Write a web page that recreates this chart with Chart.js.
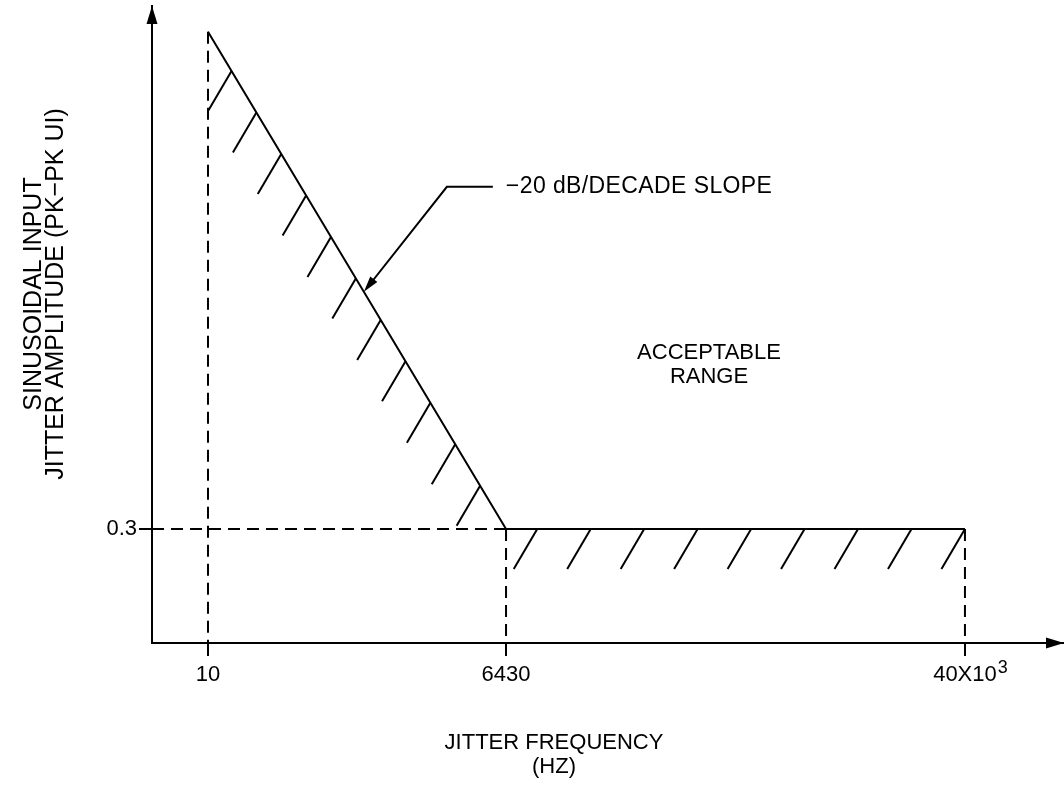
<!DOCTYPE html>
<html>
<head>
<meta charset="utf-8">
<script src="https://cdn.jsdelivr.net/npm/chart.js@4.4.1/dist/chart.umd.min.js"></script>
<style>
html,body{margin:0;padding:0;background:#fff;}
#wrap{width:1064px;height:786px;position:relative;}
</style>
</head>
<body>
<div id="wrap"><canvas id="c" width="1064" height="786"></canvas></div>
<script>
// ---- data (schematic, not-to-scale jitter tolerance mask) ----
const freqLabels   = ['10', '6430', '40X10^3'];      // tick labels of the frequency axis
const freqAxisPos  = [6.14, 38.82, 89.14];           // not-to-scale positions of those frequencies on the axis (0-100)
const jitterAmp    = [1.608, 0.3, 0.3];              // mask amplitude (schematic UI scale)
const ampTickValues = [0.3];
const ampTickLabels = ['0.3'];
const xRange = [0, 100];
const yRange = [0, 1.676];
const xTitleLines = ['JITTER FREQUENCY', '(HZ)'];
const yTitleLines = ['SINUSOIDAL INPUT', 'JITTER AMPLITUDE (PK\u2212PK UI)'];
const slopeNote  = '\u221220 dB/DECADE SLOPE';
const regionNote = ['ACCEPTABLE', 'RANGE'];

const FONT = "'Liberation Sans', Arial, Helvetica, sans-serif";
Chart.defaults.font.family = FONT;
Chart.defaults.color = '#000';

const pt = (x, y) => ({x, y});
const boundary = freqAxisPos.map((x, i) => pt(x, jitterAmp[i]));

const dashStyle = {borderColor: '#000', borderWidth: 2, borderDash: [12, 7], pointRadius: 0, fill: false, tension: 0};

const datasets = [
  {label: 'mask', data: boundary, borderColor: '#000', borderWidth: 2, pointRadius: 0, fill: false, tension: 0},
  Object.assign({label: 'ref10', data: [pt(freqAxisPos[0], jitterAmp[0]), pt(freqAxisPos[0], yRange[0])]}, dashStyle),
  Object.assign({label: 'ref03', data: [pt(xRange[0], jitterAmp[1]), pt(freqAxisPos[1], jitterAmp[1])]}, dashStyle),
  Object.assign({label: 'ref6430', data: [pt(freqAxisPos[1], jitterAmp[1]), pt(freqAxisPos[1], yRange[0])]}, dashStyle),
  Object.assign({label: 'ref40k', data: [pt(freqAxisPos[2], jitterAmp[2]), pt(freqAxisPos[2], yRange[0])]}, dashStyle)
];

function arrowHead(ctx, tipX, tipY, fromX, fromY, len, half) {
  const dx = tipX - fromX, dy = tipY - fromY;
  const L = Math.hypot(dx, dy), ux = dx / L, uy = dy / L;
  const bx = tipX - ux * len, by = tipY - uy * len;
  ctx.beginPath();
  ctx.moveTo(tipX, tipY);
  ctx.lineTo(bx - uy * half, by + ux * half);
  ctx.lineTo(bx + uy * half, by - ux * half);
  ctx.closePath();
  ctx.fill();
}

const schematic = {
  id: 'schematic',
  afterDatasetsDraw(chart) {
    const ctx = chart.ctx;
    const pts = chart.getDatasetMeta(0).data.map(p => ({x: p.x, y: p.y}));
    // hatching on the unacceptable side of the mask
    ctx.save();
    ctx.strokeStyle = '#000';
    ctx.lineWidth = 2;
    const segs = [{a: 0, b: 1, n: 11, t0: 0.079, t1: 0.913}, {a: 1, b: 2, n: 9, t0: 0.068, t1: 1}];
    segs.forEach(s => {
      const A = pts[s.a], B = pts[s.b];
      for (let i = 0; i < s.n; i++) {
        const t = s.t0 + (s.t1 - s.t0) * i / (s.n - 1);
        const x = A.x + (B.x - A.x) * t, y = A.y + (B.y - A.y) * t;
        ctx.beginPath();
        ctx.moveTo(x, y);
        ctx.lineTo(x - 23.5, y + 40);
        ctx.stroke();
      }
    });
    // slope callout
    const A = pts[0], B = pts[1], tt = 0.523;
    const tip = {x: A.x + (B.x - A.x) * tt, y: A.y + (B.y - A.y) * tt};
    const elbow = {x: tip.x + 83, y: tip.y - 105};
    ctx.beginPath();
    ctx.moveTo(elbow.x + 46, elbow.y);
    ctx.lineTo(elbow.x, elbow.y);
    ctx.lineTo(tip.x + 6, tip.y - 7.6);
    ctx.stroke();
    ctx.fillStyle = '#000';
    arrowHead(ctx, tip.x, tip.y, elbow.x, elbow.y, 16, 4.5);
    ctx.font = '23px ' + FONT;
    if ('letterSpacing' in ctx) ctx.letterSpacing = '0.4px';
    ctx.textAlign = 'left';
    ctx.textBaseline = 'middle';
    ctx.fillText(slopeNote, elbow.x + 59, elbow.y);
    if ('letterSpacing' in ctx) ctx.letterSpacing = '0px';
    ctx.restore();
  },
  afterDraw(chart) {
    const ctx = chart.ctx;
    const {left, right, top, bottom} = chart.chartArea;
    ctx.save();
    ctx.fillStyle = '#000';
    // axis arrows
    ctx.beginPath();
    ctx.moveTo(left, top); ctx.lineTo(left - 5.5, top + 18); ctx.lineTo(left + 5.5, top + 18);
    ctx.closePath(); ctx.fill();
    ctx.beginPath();
    ctx.moveTo(right, bottom); ctx.lineTo(right - 18, bottom - 5.5); ctx.lineTo(right - 18, bottom + 5.5);
    ctx.closePath(); ctx.fill();
    // superscripts on tick labels
    const xs = chart.scales.x;
    freqLabels.forEach((lab, i) => {
      const parts = lab.split('^');
      if (parts.length < 2) return;
      ctx.font = '22px ' + FONT;
      const w = ctx.measureText(parts[0]).width;
      const px = xs.getPixelForValue(freqAxisPos[i]);
      ctx.font = '18px ' + FONT;
      ctx.textAlign = 'left';
      ctx.textBaseline = 'alphabetic';
      ctx.fillText(parts[1], px + w / 2 + 1, bottom + 30);
    });
    // region note
    ctx.font = '22px ' + FONT;
    ctx.textAlign = 'center';
    ctx.textBaseline = 'alphabetic';
    ctx.fillText(regionNote[0], 709, 359);
    ctx.fillText(regionNote[1], 709, 383);
    // x title
    ctx.fillText(xTitleLines[0], 554, 749);
    ctx.fillText(xTitleLines[1], 554, 773);
    // y title
    ctx.font = '25px ' + FONT;
    ctx.translate(0, 294);
    ctx.rotate(-Math.PI / 2);
    ctx.fillText(yTitleLines[0], 0, 41);
    ctx.fillText(yTitleLines[1], 0, 63);
    ctx.restore();
  }
};

new Chart(document.getElementById('c'), {
  type: 'line',
  data: {datasets},
  options: {
    responsive: false,
    animation: false,
    devicePixelRatio: 1,
    layout: {padding: {top: 6, left: 0, right: 0, bottom: 0}},
    plugins: {legend: {display: false}, tooltip: {enabled: false}, title: {display: false}},
    elements: {line: {borderCapStyle: 'butt'}},
    scales: {
      x: {
        type: 'linear',
        position: 'bottom',
        min: xRange[0], max: xRange[1],
        afterBuildTicks: s => { s.ticks = freqAxisPos.map(v => ({value: v})); },
        afterFit: s => { s.height = 143; s.paddingLeft = 0; s.paddingRight = 0; },
        grid: {display: true, drawOnChartArea: false, drawTicks: true, tickLength: 13, color: '#000', lineWidth: 2},
        border: {display: true, color: '#000', width: 2},
        ticks: {
          autoSkip: false, maxRotation: 0, minRotation: 0, padding: 6,
          font: {size: 22, family: FONT}, color: '#000',
          callback: (v, i) => freqLabels[i].split('^')[0]
        }
      },
      y: {
        type: 'linear',
        position: 'left',
        min: yRange[0], max: yRange[1],
        afterBuildTicks: s => { s.ticks = ampTickValues.map(v => ({value: v})); },
        afterFit: s => { s.width = 152; s.paddingTop = 0; s.paddingBottom = 0; },
        grid: {display: true, drawOnChartArea: false, drawTicks: true, tickLength: 13, color: '#000', lineWidth: 2},
        border: {display: true, color: '#000', width: 2},
        ticks: {
          autoSkip: false, padding: 2,
          font: {size: 22, family: FONT}, color: '#000',
          callback: (v, i) => ampTickLabels[i]
        }
      }
    }
  },
  plugins: [schematic]
});
</script>
</body>
</html>
